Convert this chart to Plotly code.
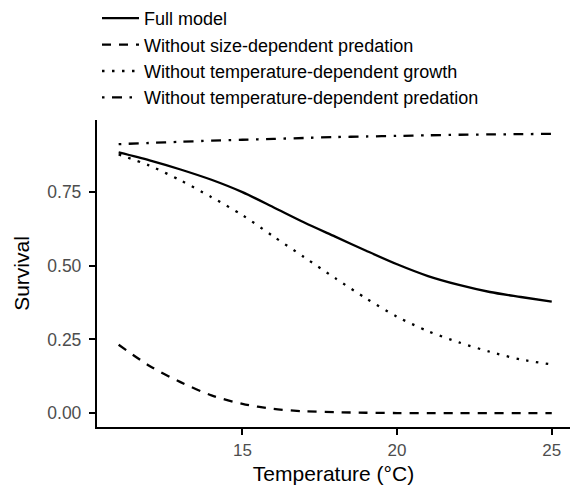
import plotly.graph_objects as go

temperature = [11, 12, 13, 14, 15, 16, 17, 18, 19, 20, 21, 22, 23, 24, 25]
full_model = [0.885, 0.858, 0.827, 0.792, 0.750, 0.699, 0.647, 0.599, 0.551, 0.505, 0.465, 0.435, 0.411, 0.394, 0.378]
no_size_pred = [0.232, 0.160, 0.105, 0.060, 0.031, 0.014, 0.006, 0.003, 0.001, 0.0, 0.0, 0.0, 0.0, 0.0, 0.0]
no_temp_growth = [0.878, 0.840, 0.790, 0.733, 0.672, 0.600, 0.529, 0.458, 0.389, 0.327, 0.278, 0.240, 0.208, 0.182, 0.165]
no_temp_pred = [0.913, 0.917, 0.921, 0.925, 0.928, 0.931, 0.934, 0.937, 0.939, 0.941, 0.943, 0.945, 0.946, 0.947, 0.948]

series_names = [
    "Full model",
    "Without size-dependent predation",
    "Without temperature-dependent growth",
    "Without temperature-dependent predation",
]
series_values = [full_model, no_size_pred, no_temp_growth, no_temp_pred]
dashes = ["solid", "9px,8px", "2.5px,7.5px", "2.5px,7.5px,10px,7.5px"]

FONT = "Liberation Sans, Arial, Helvetica, sans-serif"

fig = go.Figure()
for i, (name, vals, d) in enumerate(zip(series_names, series_values, dashes)):
    fig.add_trace(go.Scatter(
        x=temperature, y=vals, mode="lines", name=name,
        line=dict(color="black", width=2.3, dash=d, shape="spline", smoothing=0.8),
        legendgroup=f"g{i}",
    ))

fig.update_layout(
    width=570, height=491,
    margin=dict(l=97, r=0, t=120, b=64),
    paper_bgcolor="white", plot_bgcolor="white",
    font=dict(family=FONT, color="black"),
    showlegend=True,
    legend=dict(
        xref="paper", yref="paper",
        x=0.0, y=1.0 + 120 / 307, xanchor="left", yanchor="top",
        font=dict(size=18, family=FONT, color="black"),
        itemwidth=37, tracegroupgap=0,
        bgcolor="rgba(0,0,0,0)",
    ),
    xaxis=dict(
        range=[10.3, 25.59], tickvals=[15, 20, 25], ticktext=["15", "20", "25"],
        showline=True, linecolor="black", linewidth=2.3,
        ticks="outside", ticklen=6, tickwidth=2, tickcolor="black",
        tickfont=dict(size=17, color="#4D4D4D", family=FONT),
        showgrid=False, zeroline=False,
        title=dict(text="Temperature (°C)", font=dict(size=21, color="black", family=FONT), standoff=8),
    ),
    yaxis=dict(
        range=[-0.0474, 0.995], tickvals=[0, 0.25, 0.5, 0.75],
        ticktext=["0.00", "0.25", "0.50", "0.75"],
        showline=True, linecolor="black", linewidth=2.3,
        ticks="outside", ticklen=6, tickwidth=2, tickcolor="black",
        tickfont=dict(size=17.5, color="#4D4D4D", family=FONT),
        ticklabelstandoff=4,
        showgrid=False, zeroline=False,
        title=dict(text="Survival", font=dict(size=21, color="black", family=FONT), standoff=12),
    ),
)

fig.write_html("out.html")
